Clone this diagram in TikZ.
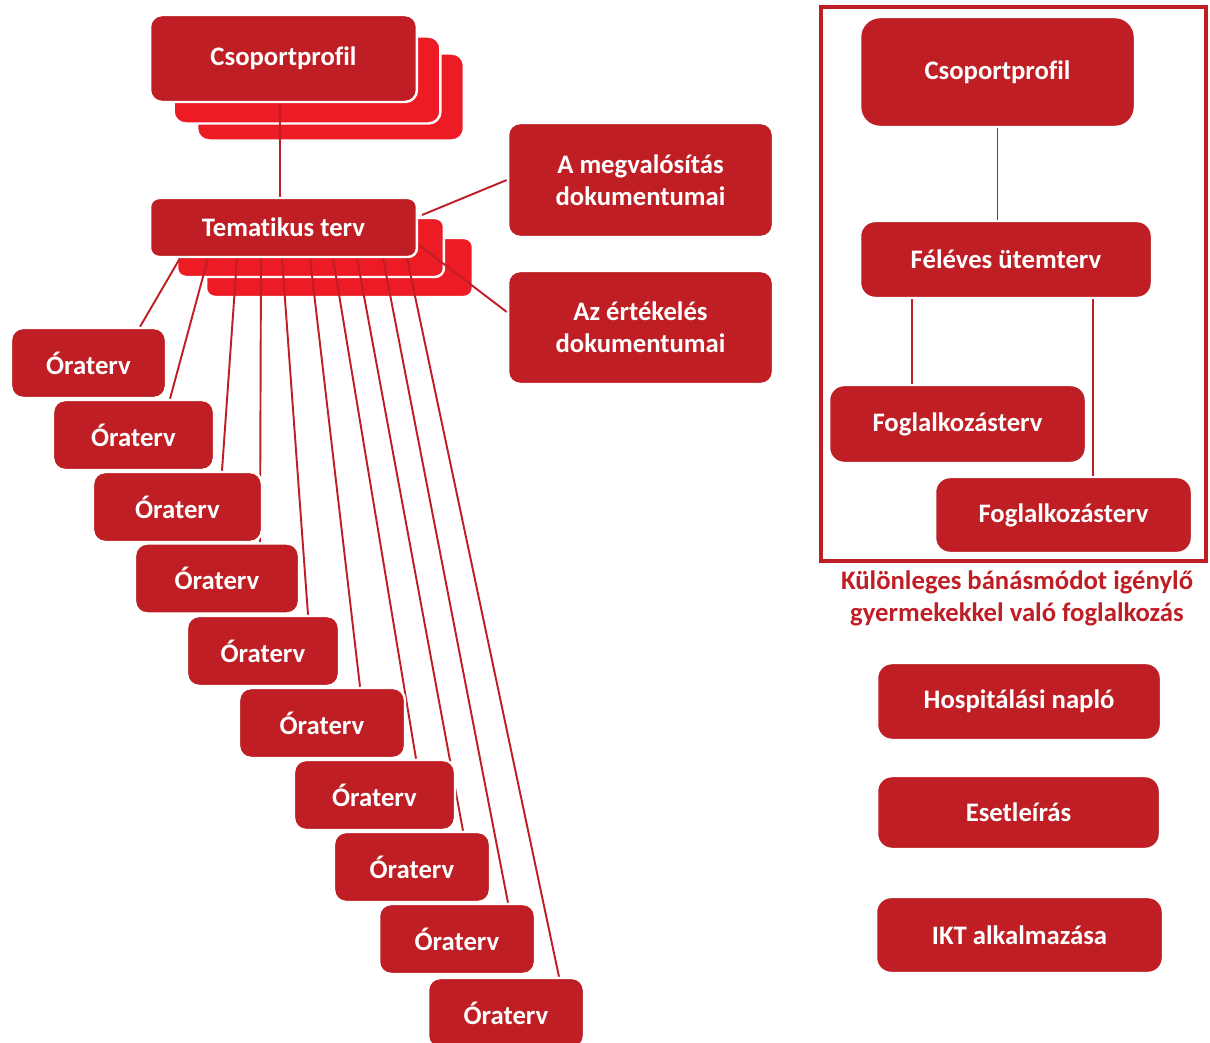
\documentclass[tikz,border=0pt]{standalone}
\usepackage{fontspec}
\setmainfont{Carlito}[Ligatures=NoCommon]
\usetikzlibrary{backgrounds}
\definecolor{darkred}{RGB}{190,30,36}
\definecolor{lightred}{RGB}{237,28,36}

\begin{document}
\begin{tikzpicture}[x=0.02cm, y=-0.02cm,
		box/.style={rectangle, rounded corners=0.24cm, fill=darkred, draw=white,
			line width=1.4pt, text=white, align=center, inner sep=0pt,
			font=\bfseries\fontsize{15.2}{18.2}\selectfont},
		shadowbox/.style={box, fill=lightred},
		link/.style={draw=darkred, line width=1.1pt}
		]
		\useasboundingbox (0,0) rectangle (1210,1043);

		\node [box, minimum width=5.34cm, minimum height=1.74cm] (csop) at (283.5,58.5) {Csoportprofil};
		\node [box, minimum width=5.34cm, minimum height=1.18cm, rounded corners=0.18cm] (tema) at (283.5,227.5) {Tematikus terv};
		\node [box, minimum width=5.3cm, minimum height=2.28cm] (megval) at (640.5,180) {A megvalósítás\\dokumentumai};
		\node [box, minimum width=5.3cm, minimum height=2.26cm] (ertek) at (640.5,327.5) {Az értékelés\\dokumentumai};

		\foreach \x/\y/\w [count=\i] in {88.5/363/3.1, 133.5/435/3.22, 177.5/507/3.38,
			217/578.5/3.28, 263/651/3.04, 322/723/3.32, 374.5/795/3.22,
			412/867/3.12, 457/939/3.12, 506/1013/3.12}
			\node [box, minimum width=\w cm, minimum height=1.4cm] (ora\i) at (\x,\y) {Óraterv};

		\coordinate (megfrom) at (422,215);
		\coordinate (ertfrom) at (415,242);
		\coordinate (csopki) at ([xshift=-0.07cm]csop.south);

		\begin{scope}[on background layer]
			\node [shadowbox, minimum width=5.34cm, minimum height=1.74cm] (csop2s) at (330.5,97) {};
			\node [shadowbox, minimum width=5.34cm, minimum height=1.74cm] (csop1s) at (307,80) {};
			\node [shadowbox, minimum width=5.34cm, minimum height=1.18cm, rounded corners=0.18cm] (tema2s) at (339.5,267.5) {};
			\node [shadowbox, minimum width=5.34cm, minimum height=1.18cm, rounded corners=0.18cm] (tema1s) at (310.5,247.5) {};

			\draw [link] (csopki) -- (csopki |- tema.north);
			\draw [link] (megfrom) -- (megval.west);
			\draw [link] (ertfrom) -- ([yshift=0.31cm]ertek.west);
			\foreach \s/\e [count=\i] in {-103.5/51.5, -75.5/36.5, -46.5/44.5, -22.5/43,
				-1.5/45, 26.5/38, 49.5/41.5, 73.5/51, 99.5/51, 123.5/53}
				\draw [link] ([xshift=\s*0.02cm]tema.south) -- ([xshift=\e*0.02cm]ora\i.north);
		\end{scope}

		\draw [darkred, line width=2.6pt] (821,7) rectangle (1206,561);
		\node [box, minimum width=5.5cm, minimum height=2.2cm, rounded corners=0.4cm] (csopk) at (997.5,72) {Csoportprofil};
		\node [box, minimum width=5.84cm, minimum height=1.54cm, rounded corners=0.3cm] (feleves) at (1006,259.5) {Féléves ütemterv};
		\node [box, minimum width=5.14cm, minimum height=1.56cm, rounded corners=0.3cm] (fogl1) at (957.5,424) {Foglalkozásterv};
		\node [box, minimum width=5.14cm, minimum height=1.52cm, rounded corners=0.3cm] (fogl2) at (1063.5,515) {Foglalkozásterv};
		\coordinate (felbal) at ([xshift=-1.88cm]feleves.south);
		\coordinate (feljobb) at ([xshift=1.74cm]feleves.south);
		\draw [link] (csopk.south) -- (csopk.south |- feleves.north);
		\draw [link] (felbal) -- (felbal |- fogl1.north);
		\draw [link] (feljobb) -- (feljobb |- fogl2.north);
		\node [text=darkred, align=center, font=\bfseries\fontsize{15.2}{18.2}\selectfont] (kulonleges) at (1017,598)
			{Különleges bánásmódot igénylő\\gyermekekkel való foglalkozás};

		\node [box, minimum width=5.68cm, minimum height=1.54cm, rounded corners=0.3cm] (hosp) at (1019,701.5) {Hospitálási napló};
		\node [box, minimum width=5.66cm, minimum height=1.46cm, rounded corners=0.3cm] (eset) at (1018.5,812.5) {Esetleírás};
		\node [box, minimum width=5.74cm, minimum height=1.52cm, rounded corners=0.3cm] (ikt) at (1019.5,935) {IKT alkalmazása};
	\end{tikzpicture}
\end{document}
